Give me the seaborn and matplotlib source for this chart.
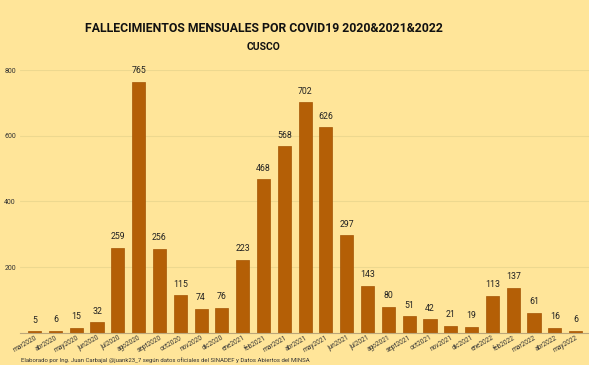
import pandas as pd
import matplotlib.pyplot as plt
import seaborn as sns

# Monthly deaths, Cusco
meses = ['mar2020', 'abr2020', 'may2020', 'jun2020', 'jul2020', 'ago2020', 'sept2020', 'oct2020',
         'nov2020', 'dic2020', 'ene2021', 'feb2021', 'mar2021', 'abr2021', 'may2021', 'jun2021',
         'jul2021', 'ago2021', 'sept2021', 'oct2021', 'nov2021', 'dic2021', 'ene2022', 'feb2022',
         'mar2022', 'abr2022', 'may2022']
fallecidos = [5, 6, 15, 32, 259, 765, 256, 115, 74, 76, 223, 468, 568, 702, 626, 297,
              143, 80, 51, 42, 21, 19, 113, 137, 61, 16, 6]
yticks = [200, 400, 600, 800]

df = pd.DataFrame({'Mes': meses, 'Fallecidos': fallecidos})

bg = '#FFE599'
bar_color = '#B45F06'

sns.set_style('whitegrid')
plt.rcParams['font.family'] = ['Roboto', 'DejaVu Sans']

fig = plt.figure(figsize=(5.89, 3.65), dpi=100, facecolor=bg)
ax = fig.add_axes([0.034, 0.088, 0.968, 0.72])
ax.set_facecolor(bg)

sns.barplot(x='Mes', y='Fallecidos', data=df, color=bar_color, saturation=1, width=0.63,
            edgecolor='#A55505', linewidth=0.5, ax=ax)

for i, v in enumerate(fallecidos):
    ax.text(i, v + 20, str(v), ha='center', va='bottom', fontsize=6.3, color='#222222')

ax.set_ylim(0, 800)
ax.set_xlim(-0.7, len(meses) - 0.3)
ax.set_yticks(yticks)
ax.set_yticklabels([str(t) for t in yticks], fontsize=5, color='#333333')
ax.tick_params(axis='y', pad=3, length=0)
ax.tick_params(axis='x', length=0, pad=1)
plt.setp(ax.get_xticklabels(), rotation=30, ha='right', rotation_mode='anchor', fontsize=4.7, color='#333333')
ax.grid(axis='y', color='#EDD88F', linewidth=0.8)
ax.grid(axis='x', visible=False)
for s in ['top', 'right', 'left']:
    ax.spines[s].set_visible(False)
ax.spines['bottom'].set_color('#BBA77A')
ax.set_xlabel('')
ax.set_ylabel('')

fig.text(0.448, 0.922, 'FALLECIMIENTOS MENSUALES POR COVID19 2020&2021&2022', ha='center', va='center',
         fontsize=8.8, fontweight='bold', color='#111111')
fig.text(0.448, 0.872, 'CUSCO', ha='center', va='center', fontsize=7.5, fontweight='bold', color='#111111')
fig.text(0.035, 0.005, 'Elaborado por Ing. Juan Carbajal @juank23_7 según datos oficiales del SINADEF y Datos Abiertos del MINSA',
         ha='left', va='bottom', fontsize=4.3, color='#333333')

fig.savefig('out.png', dpi=100, facecolor=bg)
